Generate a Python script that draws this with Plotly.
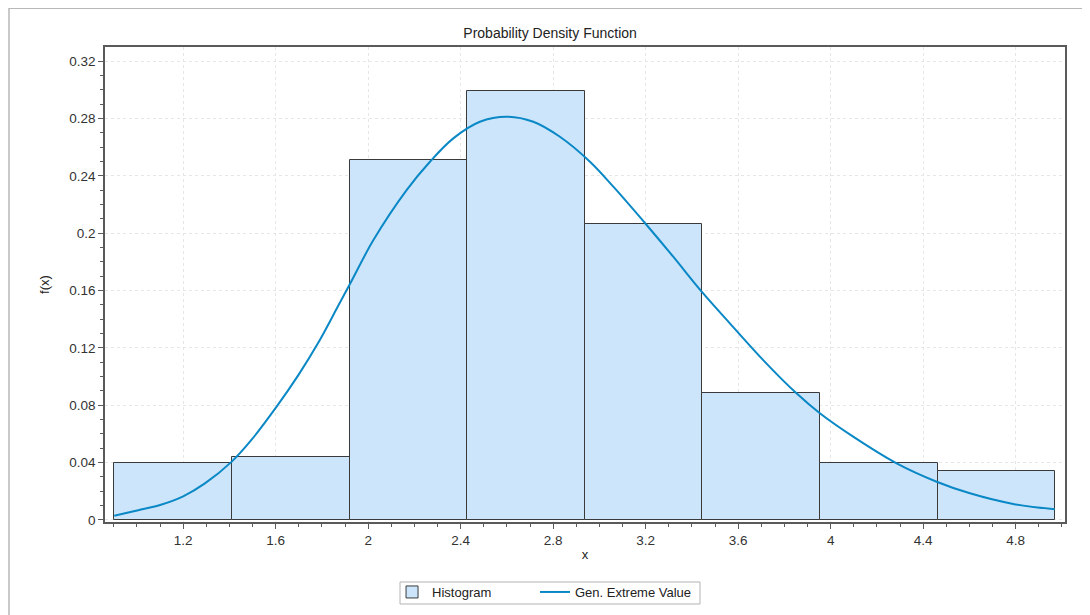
import plotly.graph_objects as go

# Histogram bins (edges) and relative-frequency heights
bin_edges = [0.903, 1.411, 1.920, 2.428, 2.937, 3.445, 3.954, 4.462, 4.970]
hist_heights = [0.0397, 0.0439, 0.251, 0.299, 0.2064, 0.0885, 0.0395, 0.0339]

# Fitted Gen. Extreme Value curve
curve_x = [0.902, 1.006, 1.107, 1.200, 1.294, 1.410, 1.496, 1.604, 1.698, 1.784,
           1.871, 1.921, 2.022, 2.166, 2.267, 2.368, 2.483, 2.599, 2.714, 2.829,
           2.959, 3.060, 3.204, 3.319, 3.442, 3.564, 3.708, 3.852, 3.953, 4.097,
           4.285, 4.458, 4.602, 4.789, 4.969]
curve_y = [0.0030, 0.0068, 0.0108, 0.0165, 0.0255, 0.0407, 0.0560, 0.0790, 0.1010, 0.1235,
           0.1495, 0.1645, 0.1950, 0.2300, 0.2498, 0.2661, 0.2777, 0.2812, 0.2777, 0.2672,
           0.2498, 0.2324, 0.2057, 0.1836, 0.1592, 0.1371, 0.1115, 0.0883, 0.0744, 0.0581,
           0.0395, 0.0267, 0.0186, 0.0112, 0.0075]

x_tick_vals = [1.2, 1.6, 2.0, 2.4, 2.8, 3.2, 3.6, 4.0, 4.4, 4.8]
x_tick_text = ["1.2", "1.6", "2", "2.4", "2.8", "3.2", "3.6", "4", "4.4", "4.8"]
y_tick_vals = [0, 0.04, 0.08, 0.12, 0.16, 0.2, 0.24, 0.28, 0.32]
y_tick_text = ["0", "0.04", "0.08", "0.12", "0.16", "0.2", "0.24", "0.28", "0.32"]

centers = [(a + b) / 2 for a, b in zip(bin_edges[:-1], bin_edges[1:])]
widths = [b - a for a, b in zip(bin_edges[:-1], bin_edges[1:])]

FONT = "Liberation Sans, Arial, sans-serif"

fig = go.Figure()
fig.add_trace(go.Bar(
    x=centers, y=hist_heights, width=widths, name="Histogram", legend="legend",
    marker=dict(color="#cce5fb", line=dict(color="#3a3a3a", width=1)),
))
fig.add_trace(go.Scatter(
    x=curve_x, y=curve_y, mode="lines", name="Gen. Extreme Value", legend="legend2",
    line=dict(color="#0a88c6", width=2, shape="spline", smoothing=1.0),
))

axis_common = dict(
    showline=True, linecolor="#5a5a5a", linewidth=1.5, mirror=True,
    ticks="outside", ticklen=5, tickcolor="#5a5a5a", tickwidth=1,
    showgrid=True, gridcolor="#e6e6e6", griddash="3px,3px", gridwidth=1,
    zeroline=False, automargin=False,
    tickfont=dict(family=FONT, size=13.5, color="#333333"),
)

legend_common = dict(orientation="h", y=-0.1158, yanchor="top", xanchor="left",
                     bgcolor="rgba(0,0,0,0)", borderwidth=0,
                     font=dict(family=FONT, size=13, color="#222222"), itemwidth=30)

# The page body has an 8px margin, so the figure is 8px smaller than the window
fig.update_layout(
    width=1082, height=607,
    paper_bgcolor="white", plot_bgcolor="white",
    margin=dict(l=97, r=25, t=39, b=93, autoexpand=False),
    font=dict(family=FONT, size=13, color="#222222"),
    title=dict(text="Probability Density Function", x=0.501, xanchor="center",
               y=0.9588, yanchor="middle", font=dict(family=FONT, size=14, color="#222222")),
    bargap=0,
    showlegend=True,
    legend=dict(x=0.299, **legend_common),
    legend2=dict(x=0.4479, **legend_common),
    xaxis=dict(range=[0.862, 5.013], tickvals=x_tick_vals, ticktext=x_tick_text,
               minor=dict(dtick=0.1, tick0=0, ticks="outside", ticklen=3, tickcolor="#5a5a5a",
                          showgrid=False),
               title=dict(text="x", standoff=3, font=dict(family=FONT, size=13, color="#222222")),
               **axis_common),
    yaxis=dict(range=[-0.0014, 0.3298], tickvals=y_tick_vals, ticktext=y_tick_text,
               minor=dict(dtick=0.01, tick0=0, ticks="outside", ticklen=3, tickcolor="#5a5a5a",
                          showgrid=False),
               title=dict(text="f(x)", standoff=17, font=dict(family=FONT, size=13, color="#222222")),
               **axis_common),
    shapes=[
        dict(type="rect", xref="paper", yref="paper",
             x0=-0.1, x1=1.2, y0=-0.5, y1=1.0815,
             line=dict(color="#b8b8b8", width=1.5), fillcolor="rgba(0,0,0,0)", layer="below"),
        # legend frame
        dict(type="rect", xref="paper", yref="paper",
             x0=0.3073, x1=0.6198, y0=-0.1726, y1=-0.1263,
             line=dict(color="#b4b4b4", width=1), fillcolor="white", layer="below"),
    ],
)

fig.write_html("out.html")
